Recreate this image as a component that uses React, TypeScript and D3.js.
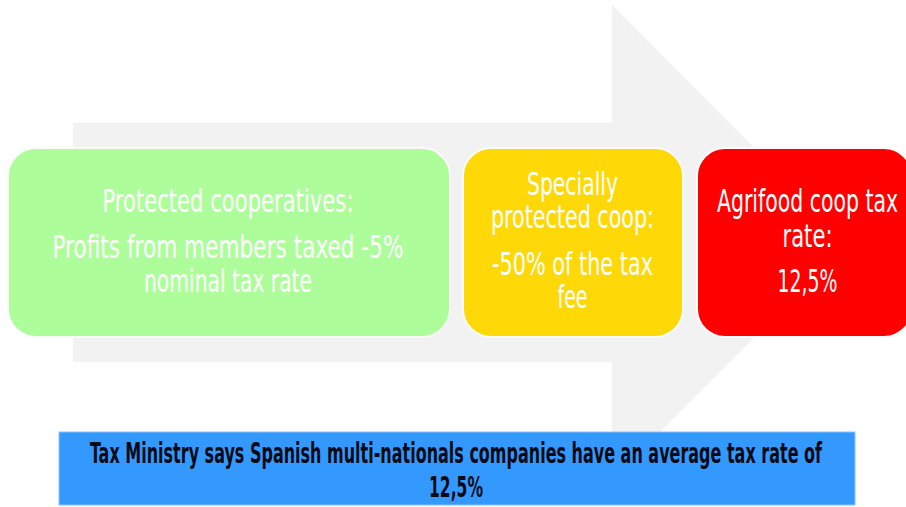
import React from 'react';
import * as d3 from 'd3';

// labels, one array per box
const greenLines = ['Protected cooperatives:', 'Profits from members taxed -5%', 'nominal tax rate'];
const yellowLines = ['Specially', 'protected coop:', '-50% of the tax', 'fee'];
const redLines = ['Agrifood coop tax', 'rate:', '12,5%'];
const footerLines = ['Tax Ministry says Spanish multi-nationals companies have an average tax rate of', '12,5%'];

const boxNames = ['green', 'yellow', 'red'];
const boxLabels = [greenLines, yellowLines, redLines];

// layout (pixels) kept apart from the data
const W = 906;
const H = 507;
const boxLayout = [
    { x0: 8, x1: 450, fill: '#adfe9b', cx: 228, baselines: [212, 258, 292], widths: [251, 351, 168] },
    { x0: 463, x1: 683, fill: '#ffd808', cx: 572.5, baselines: [195, 228, 275, 308], widths: [91, 163, 161, 30] },
    { x0: 697, x1: 912, fill: '#ff0000', cx: 807.5, baselines: [212, 247, 292], widths: [181, 50, 60] },
];
const boxTop = 148;
const boxBottom = 337;
const footer = { x0: 59, x1: 855, y0: 432, y1: 505, cx: 456, baselines: [463, 497], widths: [732, 54] };

const FONT = '"Liberation Sans Narrow", "DejaVu Sans Condensed", "Roboto", sans-serif';

export default function App() {
    // arrow shape in its own unit space, mapped to pixels by scales
    const x = d3.scaleLinear().domain([0, 1]).range([73, 849]);
    const y = d3.scaleLinear().domain([0, 1]).range([5, 480]);
    const shaftEnd = (612 - 73) / (849 - 73);
    const shaftTop = (123 - 5) / 475;
    const shaftBottom = (362 - 5) / 475;
    const arrowPts: [number, number][] = [
        [0, shaftTop], [shaftEnd, shaftTop], [shaftEnd, 0], [1, 0.5],
        [shaftEnd, 1], [shaftEnd, shaftBottom], [0, shaftBottom],
    ];
    const arrowPath = d3.line<[number, number]>()
        .x(d => x(d[0]))
        .y(d => y(d[1]))
        .curve(d3.curveLinearClosed)(arrowPts) || '';

    return (
        <svg width={W} height={H} style={{ position: 'absolute', left: 0, top: 0, display: 'block', background: '#ffffff' }}>
            <path d={arrowPath} fill="#f2f2f2" />
            {boxNames.map((name, i) => {
                const b = boxLayout[i];
                return (
                    <g key={name} className={`box-${name}`}>
                        <rect x={b.x0} y={boxTop} width={b.x1 - b.x0} height={boxBottom - boxTop}
                            rx={28} ry={28} fill={b.fill} stroke="#fafafa" strokeWidth={2} />
                        {boxLabels[i].map((line, j) => (
                            <text key={j} x={b.cx} y={b.baselines[j]} textAnchor="middle"
                                fontFamily={FONT} fontSize={32} fill="#ffffff"
                                textLength={b.widths[j]} lengthAdjust="spacingAndGlyphs">
                                {line}
                            </text>
                        ))}
                    </g>
                );
            })}
            <rect x={footer.x0} y={footer.y0} width={footer.x1 - footer.x0} height={footer.y1 - footer.y0}
                fill="#3399ff" stroke="#8ec4fb" strokeWidth={1} />
            {footerLines.map((line, j) => (
                <text key={j} x={footer.cx} y={footer.baselines[j]} textAnchor="middle"
                    fontFamily={FONT} fontWeight="bold" fontSize={28} fill="#0a0a14"
                    textLength={footer.widths[j]} lengthAdjust="spacingAndGlyphs">
                    {line}
                </text>
            ))}
        </svg>
    );
}
